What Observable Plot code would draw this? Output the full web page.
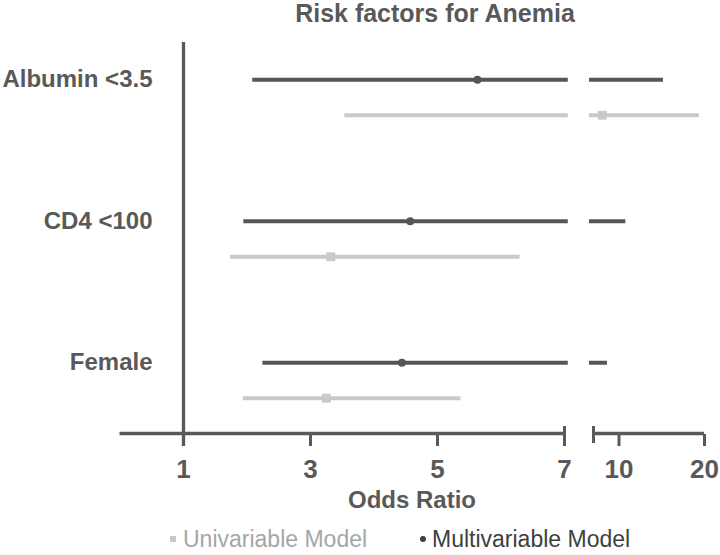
<!DOCTYPE html>
<html><head><meta charset="utf-8">
<script src="https://cdn.jsdelivr.net/npm/d3@7"></script>
<script src="https://cdn.jsdelivr.net/npm/@observablehq/plot@0.6"></script>
<style>
body{margin:0;background:#fff;font-family:"Liberation Sans",Arial,sans-serif;}
#title{height:24px;line-height:26px;font-size:25px;font-weight:bold;color:#595959;padding-left:150px;width:570px;text-align:center;white-space:nowrap;overflow:visible;font-family:"Liberation Sans",Arial,sans-serif;}
#chart svg{display:block;}
#legend{position:relative;height:39px;width:720px;font-size:23px;font-family:"Liberation Sans",Arial,sans-serif;}
#legend span{position:absolute;white-space:nowrap;}
</style></head><body>
<div id="title">Risk factors for Anemia</div>
<div id="chart"></div>
<div id="legend"></div>
<script>
// ---- data ----
const factors = ["Albumin <3.5", "CD4 <100", "Female"];
const multiOR = [5.63, 4.57, 4.44];
const multiLo = [2.09, 1.95, 2.25];
const multiHi = [15.2, 10.8, 8.85];
const uniOR = [8.33, 3.32, 3.25];
const uniLo = [3.54, 1.74, 1.94];
const uniHi = [19.4, 6.30, 5.37];
const tickValues = [1, 3, 5, 7, 10, 20];
const models = ["Univariable Model", "Multivariable Model"];

// ---- broken axis definition ----
const BREAK_LO = 7.06, BREAK_HI = 7.0601, RIGHT_START = 7.46, AXIS_START = 0;
const DARK = "#565656", LIGHT = "#c9c9c9", TEXT = "#595959";

function pieces(lo, hi, row) {
  const out = [{x1: lo, x2: Math.min(hi, BREAK_LO), row}];
  if (hi > BREAK_LO) out.push({x1: BREAK_HI, x2: hi, row});
  return out;
}
const multiSeg = factors.flatMap((f, i) => pieces(multiLo[i], multiHi[i], i));
const uniSeg = factors.flatMap((f, i) => pieces(uniLo[i], uniHi[i], i));
const multiPts = factors.map((f, i) => ({or: multiOR[i], row: i}));
const uniPts = factors.map((f, i) => ({or: uniOR[i], row: i}));
const axisSeg = [{x1: AXIS_START, x2: 7}, {x1: RIGHT_START, x2: 20}];

const H = 492, MT = 18, MB = 82;
const frameH = H - MT - MB;
const AXIS_Y = 2 + 53 / 141.5; // frame bottom in row units
const SUB = 17.75;

const chart = Plot.plot({
  width: 720, height: H,
  marginLeft: 119, marginRight: 16, marginTop: MT, marginBottom: MB,
  style: {fontFamily: "'Liberation Sans', Arial, sans-serif", background: "#fff"},
  x: {type: "linear", domain: [1, BREAK_LO, BREAK_HI, 10, 20], range: [183, 567.8, 589, 618.5, 704], axis: null},
  y: {type: "linear", domain: [0, 2], range: [73, 356], axis: null},
  marks: [
    Plot.ruleX([1], {stroke: TEXT, strokeWidth: 3.3, insetBottom: -12}),
    Plot.ruleY(axisSeg, {x1: "x1", x2: "x2", y: () => AXIS_Y, stroke: TEXT, strokeWidth: 3.3}),
    Plot.ruleX(tickValues, {stroke: TEXT, strokeWidth: 3, insetTop: frameH, insetBottom: -12}),
    Plot.ruleX([7], {stroke: TEXT, strokeWidth: 3, insetTop: frameH - 8, insetBottom: -12}),
    Plot.ruleX([RIGHT_START], {stroke: TEXT, strokeWidth: 3, insetTop: frameH - 8, insetBottom: -9}),
    Plot.text(tickValues, {x: d => d, text: d => String(d), frameAnchor: "bottom", dy: 34.7, lineAnchor: "middle", fontSize: 26, fontWeight: "bold", fill: TEXT}),
    Plot.text(["Odds Ratio"], {frameAnchor: "bottom", dy: 66.3, lineAnchor: "middle", fontSize: 24, fontWeight: "bold", fill: TEXT, letterSpacing: "0.5px"}),
    Plot.text(factors, {y: (d, i) => i, text: d => d, frameAnchor: "left", dx: 33, dy: -SUB, textAnchor: "end", lineAnchor: "middle", fontSize: 24, fontWeight: "bold", fill: TEXT}),
    Plot.ruleY(uniSeg, {x1: "x1", x2: "x2", y: "row", dy: SUB, stroke: LIGHT, strokeWidth: 4}),
    Plot.dot(uniPts, {x: "or", y: "row", dy: SUB, symbol: "square", r: 5, fill: LIGHT}),
    Plot.ruleY(multiSeg, {x1: "x1", x2: "x2", y: "row", dy: -SUB, stroke: DARK, strokeWidth: 4}),
    Plot.dot(multiPts, {x: "or", y: "row", dy: -SUB, r: 4, fill: DARK})
  ]
});
document.getElementById("chart").appendChild(chart);

// legend
const lg = document.getElementById("legend");
const items = [
  {text: models[0], color: "#a6a6a6", mark: "square", left: 170, textLeft: 183},
  {text: models[1], color: "#404040", mark: "dot", left: 420, textLeft: 432}
];
for (const it of items) {
  const m = document.createElement("span");
  m.style.left = it.left + "px";
  m.style.top = "20px"; m.style.width = "6px"; m.style.height = "6px";
  if (it.mark === "square") {
    m.style.background = "#c8c8c8";
  } else {
    m.style.borderRadius = "50%"; m.style.background = it.color;
  }
  lg.appendChild(m);
  const t = document.createElement("span");
  t.textContent = it.text;
  t.style.left = it.textLeft + "px";
  t.style.top = "1px";
  t.style.lineHeight = "44px";
  t.style.color = it.color;
  lg.appendChild(t);
}
</script>
</body></html>
